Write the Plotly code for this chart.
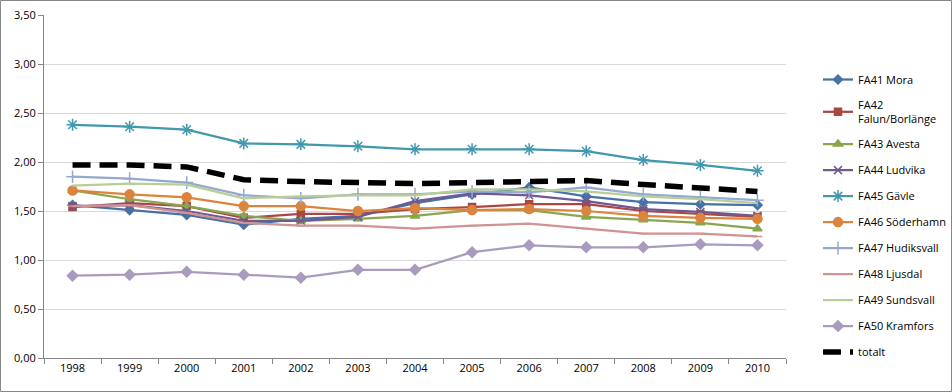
import plotly.graph_objects as go

years = ["1998", "1999", "2000", "2001", "2002", "2003", "2004",
         "2005", "2006", "2007", "2008", "2009", "2010"]

mora = [1.56, 1.51, 1.46, 1.36, 1.42, 1.45, 1.58, 1.67, 1.74, 1.65, 1.59, 1.57, 1.56]
falun = [1.54, 1.58, 1.55, 1.43, 1.47, 1.47, 1.52, 1.54, 1.57, 1.57, 1.50, 1.47, 1.44]
avesta = [1.71, 1.62, 1.55, 1.45, 1.40, 1.42, 1.45, 1.51, 1.51, 1.44, 1.41, 1.38, 1.32]
ludvika = [1.55, 1.56, 1.50, 1.40, 1.40, 1.44, 1.60, 1.68, 1.66, 1.60, 1.52, 1.49, 1.45]
gavle = [2.38, 2.36, 2.33, 2.19, 2.18, 2.16, 2.13, 2.13, 2.13, 2.11, 2.02, 1.97, 1.91]
soderhamn = [1.71, 1.67, 1.64, 1.55, 1.55, 1.50, 1.53, 1.51, 1.52, 1.50, 1.45, 1.43, 1.42]
hudiksvall = [1.85, 1.83, 1.79, 1.66, 1.63, 1.67, 1.67, 1.70, 1.69, 1.74, 1.67, 1.64, 1.61]
ljusdal = [1.55, 1.56, 1.48, 1.38, 1.35, 1.35, 1.32, 1.35, 1.37, 1.32, 1.27, 1.27, 1.24]
sundsvall = [1.76, 1.78, 1.77, 1.63, 1.65, 1.66, 1.66, 1.72, 1.72, 1.70, 1.65, 1.62, 1.58]
kramfors = [0.84, 0.85, 0.88, 0.85, 0.82, 0.90, 0.90, 1.08, 1.15, 1.13, 1.13, 1.16, 1.15]
totalt = [1.97, 1.97, 1.95, 1.82, 1.80, 1.79, 1.78, 1.79, 1.80, 1.81, 1.77, 1.73, 1.70]

y_ticks = [0, 0.5, 1.0, 1.5, 2.0, 2.5, 3.0, 3.5]

series = [
    ("FA41 Mora", mora, "#4572A7", "diamond", 7),
    ("FA42<br>Falun/Borlänge", falun, "#AA4643", "square", 7),
    ("FA43 Avesta", avesta, "#89A54E", "triangle-up", 8),
    ("FA44 Ludvika", ludvika, "#71588F", "x-thin-open", 8),
    ("FA45 Gävle", gavle, "#4198AF", "asterisk-open", 10),
    ("FA46 Söderhamn", soderhamn, "#DB843D", "circle", 9),
    ("FA47 Hudiksvall", hudiksvall, "#93A9CF", "cross-thin-open", 9),
    ("FA48 Ljusdal", ljusdal, "#D19392", "line-ew-open", 7),
    ("FA49 Sundsvall", sundsvall, "#B9CD96", None, 0),
    ("FA50 Kramfors", kramfors, "#A99BBD", "diamond", 8),
]

fig = go.Figure()
for i, (name, vals, color, sym, size) in enumerate(series):
    if sym is None:
        mode = "lines"
        marker = dict()
    else:
        mode = "lines+markers"
        marker = dict(symbol=sym, size=size, color=color,
                      line=dict(color=color, width=1.5))
    fig.add_trace(go.Scatter(
        x=years, y=vals, name=name, mode=mode, legendgroup=f"g{i}",
        line=dict(color=color, width=2.25), marker=marker,
    ))

fig.add_trace(go.Scatter(
    x=years, y=totalt, name="totalt", mode="lines", legendgroup="gt",
    line=dict(color="black", width=5.5, dash="18px,9px"),
))

W, H = 952, 392
L, R, T, B = 44, 166, 15, 34
pw = W - L - R
ph = H - T - B

fig.update_layout(
    width=W, height=H,
    margin=dict(l=L, r=R, t=T, b=B, autoexpand=False),
    paper_bgcolor="white", plot_bgcolor="white",
    separators=", ",
    font=dict(family="Open Sans, Liberation Sans, sans-serif", size=11, color="#000000"),
    showlegend=True,
    legend=dict(
        xref="container", yref="container",
        x=818 / W, y=1 - 65 / H, xanchor="left", yanchor="top",
        font=dict(size=11), tracegroupgap=7, maxheight=340,
        itemwidth=30, bgcolor="rgba(0,0,0,0)",
    ),
    shapes=[dict(
        type="rect", xref="paper", yref="paper",
        x0=-(L - 0.5) / pw, x1=(W - L - 0.5) / pw,
        y0=-(B - 0.5) / ph, y1=(ph + T - 0.5) / ph,
        line=dict(color="#878787", width=1), fillcolor="rgba(0,0,0,0)",
        layer="below",
    )],
)

fig.update_xaxes(
    type="category", tickson="boundaries", ticks="outside", ticklen=5,
    tickcolor="#868686", showline=True, linecolor="#868686", linewidth=1,
    showgrid=False, range=[-0.5, 12.5], tickfont=dict(size=11),
)
fig.update_yaxes(
    range=[0, 3.5], tickvals=y_ticks, tickformat=".2f",
    ticks="outside", ticklen=5, tickcolor="#868686",
    showline=True, linecolor="#868686", linewidth=1,
    showgrid=True, gridcolor="#D9D9D9", gridwidth=1,
    zeroline=False, tickfont=dict(size=11),
)

fig.write_html("out.html", config={"displayModeBar": False},
               post_script="document.body.style.margin='0px';")
